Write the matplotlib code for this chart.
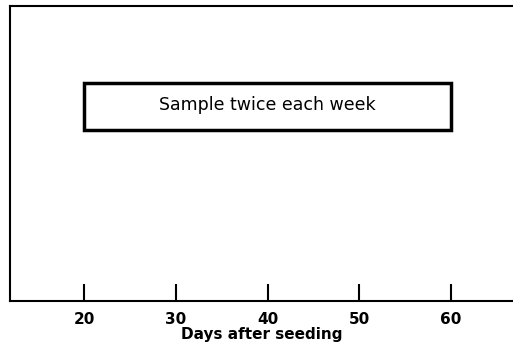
import matplotlib.pyplot as plt
from matplotlib.patches import Rectangle

# data
x_ticks = [20, 30, 40, 50, 60]
x_tick_labels = ['20', '30', '40', '50', '60']
sample_start = 20
sample_end = 60
sample_label = 'Sample twice each week'

fig = plt.figure(figsize=(5.13, 3.51), dpi=100)
ax = fig.add_axes([10 / 513, 50 / 351, 503 / 513, 295 / 351])

ax.set_xlim(11.93, 66.76)
ax.set_ylim(0, 1)

box = Rectangle((sample_start, 0.58), sample_end - sample_start, 0.16,
                fill=False, edgecolor='black', linewidth=2.5)
ax.add_patch(box)
ax.text((sample_start + sample_end) / 2, 0.665, sample_label,
        ha='center', va='center', fontsize=12.5)

ax.set_xticks(x_ticks)
ax.set_xticklabels(x_tick_labels, fontsize=11, fontweight='bold')
ax.tick_params(axis='x', direction='in', length=12, width=1.5, pad=8)
ax.set_yticks([])
ax.set_xlabel('Days after seeding', fontsize=11, fontweight='bold', labelpad=0)

for side in ['left', 'bottom', 'top']:
    ax.spines[side].set_linewidth(1.5)
ax.spines['right'].set_visible(False)

fig.savefig('out.png', dpi=100)
